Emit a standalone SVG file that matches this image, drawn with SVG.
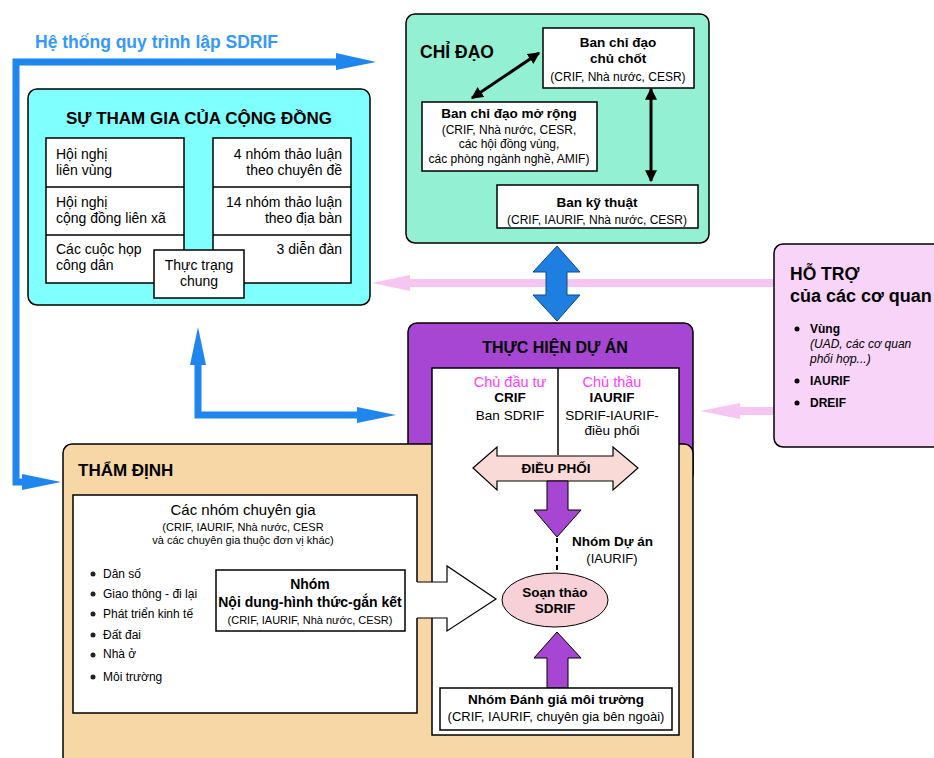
<svg xmlns="http://www.w3.org/2000/svg" width="934" height="758" viewBox="0 0 934 758">
<defs>
<style>
text{font-family:"Liberation Sans",Arial,sans-serif;fill:#000}
.b{font-weight:bold}
.c{text-anchor:middle}
.r{text-anchor:end}
.box{stroke:#000;stroke-width:1.5}
.wb{fill:#fff;stroke:#000;stroke-width:1.5}
.blue{fill:#1F86EE}
.pink{fill:#F6C6F2}
.mag{fill:#FF40FF}
</style>
<marker id="ah" viewBox="0 0 10 10" refX="9" refY="5" markerWidth="4" markerHeight="4" orient="auto-start-reverse"><path d="M0,0 L10,5 L0,10 z" fill="#000"/></marker>
</defs>

<g id="connectors">
<path d="M340,62 H16 V482 H25" fill="none" stroke="#1F86EE" stroke-width="7"/>
<polygon class="blue" points="336,53 376,62 336,70"/>
<polygon class="blue" points="22,474 61,482 22,490"/>
<path d="M198,362 V415 H360" fill="none" stroke="#1F86EE" stroke-width="7"/>
<polygon class="blue" points="198,327 206,365 190,365"/>
<polygon class="blue" points="396,415 357,407 357,423"/>
<rect class="pink" x="408" y="279" width="368" height="8"/>
<polygon class="pink" points="372,283 410,275 410,291"/>
<rect class="pink" x="738" y="407" width="38" height="8"/>
<polygon class="pink" points="700,411 740,403 740,419"/>
<polygon points="557,246 580,272 567,272 567,295 580,295 557,321 533,295 546,295 546,272 533,272" fill="#1F7FE0" stroke="#0A4A90" stroke-width="1"/>
</g>

<g id="su-tham-gia">
<rect class="box" x="28" y="89" width="342" height="216" rx="9" fill="#80FFFF"/>
<text class="b c" x="199" y="124" font-size="17">SỰ THAM GIA CỦA CỘNG ĐỒNG</text>
<rect class="wb" x="46" y="138" width="138" height="145"/>
<line x1="46" y1="187" x2="184" y2="187" stroke="#000" stroke-width="1.5"/>
<line x1="46" y1="235" x2="184" y2="235" stroke="#000" stroke-width="1.5"/>
<rect class="wb" x="213" y="138" width="138" height="145"/>
<line x1="213" y1="187" x2="351" y2="187" stroke="#000" stroke-width="1.5"/>
<line x1="213" y1="235" x2="351" y2="235" stroke="#000" stroke-width="1.5"/>
<g font-size="14">
<text x="56" y="159">Hội nghị</text>
<text x="56" y="175">liên vùng</text>
<text x="56" y="207">Hội nghị</text>
<text x="56" y="223">cộng đồng liên xã</text>
<text x="56" y="254">Các cuộc họp</text>
<text x="56" y="270">công dân</text>
<text class="r" x="342" y="159">4 nhóm thảo luận</text>
<text class="r" x="342" y="175">theo chuyên đề</text>
<text class="r" x="342" y="207">14 nhóm thảo luận</text>
<text class="r" x="342" y="223">theo địa bàn</text>
<text class="r" x="342" y="254">3 diễn đàn</text>
</g>
<g id="thuc-trang">
<rect class="wb" x="154" y="250" width="90" height="48"/>
<text class="c" x="199" y="270" font-size="14">Thực trạng</text>
<text class="c" x="199" y="286" font-size="14">chung</text>
</g>
</g>

<g id="chi-dao">
<rect class="box" x="406" y="14" width="303" height="229" rx="9" fill="#93F0D2"/>
<text class="b" x="420" y="58" font-size="17.5">CHỈ ĐẠO</text>
<g id="ban-chu-chot">
<rect class="wb" x="543" y="28" width="151" height="60"/>
<text class="b c" x="618" y="47" font-size="13.5">Ban chỉ đạo</text>
<text class="b c" x="618" y="63" font-size="13.5">chủ chốt</text>
<text class="c" x="618" y="81" font-size="12">(CRIF, Nhà nước, CESR)</text>
</g>
<g id="ban-mo-rong">
<rect class="wb" x="422" y="102" width="175" height="69"/>
<text class="b c" x="509" y="118" font-size="13.5">Ban chỉ đạo mở rộng</text>
<text class="c" x="509" y="134" font-size="12">(CRIF, Nhà nước, CESR,</text>
<text class="c" x="509" y="148" font-size="12">các hội đồng vùng,</text>
<text class="c" x="509" y="163" font-size="12">các phòng ngành nghề, AMIF)</text>
</g>
<g id="ban-ky-thuat">
<rect class="wb" x="497" y="185" width="201" height="43"/>
<text class="b c" x="597" y="207" font-size="13.5">Ban kỹ thuật</text>
<text class="c" x="597" y="224" font-size="12">(CRIF, IAURIF, Nhà nước, CESR)</text>
</g>
<line x1="472" y1="98" x2="539" y2="53" stroke="#000" stroke-width="3" marker-start="url(#ah)" marker-end="url(#ah)"/>
<line x1="651" y1="89" x2="651" y2="181" stroke="#000" stroke-width="3" marker-start="url(#ah)" marker-end="url(#ah)"/>
</g>

<g id="ho-tro">
<rect class="box" x="774" y="244" width="200" height="203" rx="9" fill="#F8D4F8"/>
<text class="b" x="790" y="280" font-size="17.5">HỖ TRỢ</text>
<text class="b" x="790" y="302" font-size="18">của các cơ quan</text>
<circle cx="797" cy="329" r="2.5"/>
<circle cx="797" cy="381" r="2.5"/>
<circle cx="797" cy="403" r="2.5"/>
<text class="b" x="810" y="333" font-size="12">Vùng</text>
<text x="810" y="348" font-size="12" font-style="italic">(UAD, các cơ quan</text>
<text x="810" y="363" font-size="12" font-style="italic">phối hợp...)</text>
<text class="b" x="810" y="385" font-size="12">IAURIF</text>
<text class="b" x="810" y="407" font-size="12">DREIF</text>
</g>

<g id="thuc-hien">
<rect class="box" x="408" y="323" width="285" height="160" rx="9" fill="#A646D2"/>
<text class="b c" x="555" y="353" font-size="16">THỰC HIỆN DỰ ÁN</text>
</g>

<g id="tham-dinh">
<rect class="box" x="63" y="444" width="630" height="340" rx="9" fill="#F7D7A6"/>
<text class="b" x="78" y="476" font-size="17">THẨM ĐỊNH</text>
</g>

<g id="thuc-hien-inner">
<rect class="wb" x="432" y="368" width="247" height="367"/>
<line x1="558" y1="368" x2="558" y2="455" stroke="#000" stroke-width="1.5"/>
<text class="mag c" x="510" y="387" font-size="14.5">Chủ đầu tư</text>
<text class="b c" x="510" y="402" font-size="13.5">CRIF</text>
<text class="c" x="510" y="420" font-size="13.5" fill="#333">Ban SDRIF</text>
<text class="mag c" x="612" y="387" font-size="14.5">Chủ thầu</text>
<text class="b c" x="612" y="402" font-size="13.5">IAURIF</text>
<text class="c" x="612" y="420" font-size="13.5" fill="#333">SDRIF-IAURIF-</text>
<text class="c" x="612" y="435" font-size="13.5" fill="#333">điều phối</text>
</g>

<g id="dieu-phoi">
<polygon points="473,468 497,447 497,456 613,456 613,447 638,468 613,490 613,481 497,481 497,490" fill="#FADAD6" stroke="#000" stroke-width="1.2"/>
<text class="b c" x="556" y="473" font-size="13.5">ĐIỀU PHỐI</text>
</g>

<g id="purple-arrows">
<polygon points="547,481 568,481 568,510 581,510 557,537 534,510 547,510" fill="#A646D2" stroke="#000" stroke-width="1"/>
<line x1="557" y1="538" x2="557" y2="573" stroke="#000" stroke-width="2" stroke-dasharray="5,4"/>
<polygon points="557,632 581,658 568,658 568,688 547,688 547,658 534,658" fill="#A646D2" stroke="#000" stroke-width="1"/>
</g>

<g id="nhom-du-an">
<text class="b" x="572" y="546" font-size="13.5">Nhóm Dự án</text>
<text class="c" x="612" y="563" font-size="13" fill="#333">(IAURIF)</text>
</g>

<g id="soan-thao">
<ellipse cx="555" cy="600" rx="53" ry="27" fill="#F7D0D8" stroke="#000" stroke-width="1"/>
<text class="b c" x="555" y="597" font-size="13.5">Soạn thảo</text>
<text class="b c" x="555" y="613" font-size="13.5">SDRIF</text>
</g>

<g id="danh-gia">
<rect class="wb" x="440" y="688" width="232" height="42"/>
<text class="b c" x="556" y="704" font-size="13.5">Nhóm Đánh giá môi trường</text>
<text class="c" x="556" y="721" font-size="13">(CRIF, IAURIF, chuyên gia bên ngoài)</text>
</g>

<g id="chuyen-gia">
<rect class="wb" x="73" y="495" width="344" height="218"/>
<text class="c" x="243" y="515" font-size="15">Các nhóm chuyên gia</text>
<text class="c" x="243" y="531" font-size="11">(CRIF, IAURIF, Nhà nước, CESR</text>
<text class="c" x="243" y="544" font-size="11">và các chuyên gia thuộc đơn vị khác)</text>
<g font-size="12" fill="#222">
<circle cx="93" cy="574" r="2.5"/>
<circle cx="93" cy="594" r="2.5"/>
<circle cx="93" cy="614" r="2.5"/>
<circle cx="93" cy="635" r="2.5"/>
<circle cx="93" cy="655" r="2.5"/>
<circle cx="93" cy="677" r="2.5"/>
<text x="103" y="578">Dân số</text>
<text x="103" y="598">Giao thông - đi lại</text>
<text x="103" y="618">Phát triển kinh tế</text>
<text x="103" y="639">Đất đai</text>
<text x="103" y="658">Nhà ở</text>
<text x="103" y="681">Môi trường</text>
</g>
<g id="nhom-noi-dung">
<rect class="wb" x="216" y="570" width="189" height="61"/>
<text class="b c" x="310" y="589" font-size="14">Nhóm</text>
<text class="b c" x="310" y="607" font-size="14">Nội dung-hình thức-gắn kết</text>
<text class="c" x="310" y="624" font-size="11">(CRIF, IAURIF, Nhà nước, CESR)</text>
</g>
</g>

<g id="white-arrow">
<polygon points="416,582 447,582 447,566 496,599 447,631 447,618 416,618" fill="#fff"/>
<path d="M417,582 H447 V566 L496,599 L447,631 V618 H417" fill="none" stroke="#000" stroke-width="1.2"/>
</g>

<text x="35" y="48" font-size="17.5" font-weight="bold" style="fill:#3399FF">Hệ thống quy trình lập SDRIF</text>
</svg>
